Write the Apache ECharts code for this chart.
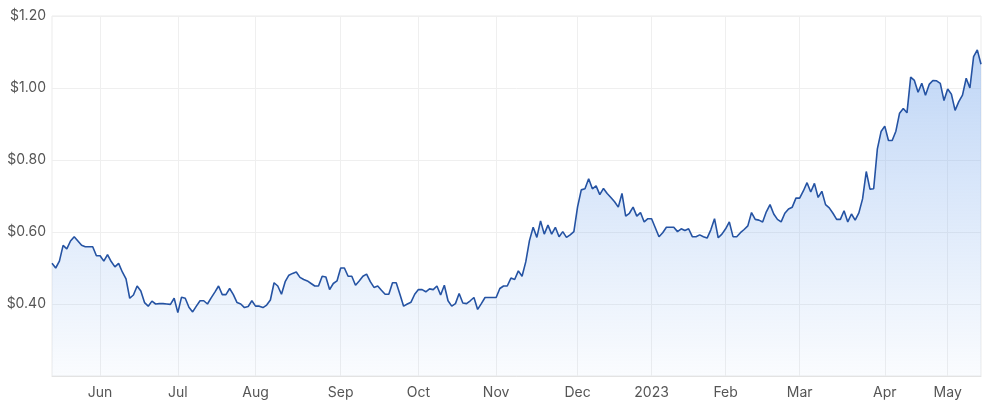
<!DOCTYPE html>
<html>
<head>
<meta charset="utf-8">
<script src="https://cdn.jsdelivr.net/npm/echarts@6/dist/echarts.min.js"></script>
<style>
html,body{margin:0;padding:0;background:#fff;}
#chart{width:1000px;height:409px;}
</style>
</head>
<body>
<div id="chart"></div>
<script>
// Trading calendar (ASX): first and last trading day shown, and exchange holidays in range
var startDate = '2022-05-13';
var endDate = '2023-05-12';
var holidays = ['2022-06-13','2022-09-22','2022-12-26','2022-12-27','2023-01-02','2023-01-26','2023-04-07','2023-04-10','2023-04-25'];
var monthNames = ['Jan','Feb','Mar','Apr','May','Jun','Jul','Aug','Sep','Oct','Nov','Dec'];
var yTicks = [0.2, 0.4, 0.6, 0.8, 1.0, 1.2];

// Closing prices, one per trading day
var prices = [
0.513,0.500,0.519,0.563,0.553,0.575,0.587,0.575,0.563,0.559,
0.559,0.559,0.534,0.534,0.519,0.537,0.518,0.503,0.513,0.489,
0.470,0.416,0.425,0.450,0.436,0.404,0.394,0.408,0.400,0.401,
0.401,0.400,0.399,0.416,0.376,0.419,0.416,0.391,0.378,0.394,
0.409,0.409,0.400,0.417,0.433,0.450,0.426,0.426,0.443,0.426,
0.404,0.400,0.390,0.393,0.409,0.394,0.394,0.390,0.397,0.411,
0.459,0.450,0.427,0.462,0.480,0.485,0.489,0.474,0.468,0.464,
0.457,0.450,0.450,0.477,0.475,0.440,0.457,0.464,0.500,0.500,
0.477,0.477,0.452,0.464,0.477,0.483,0.462,0.446,0.450,0.438,
0.427,0.427,0.459,0.459,0.427,0.394,0.400,0.405,0.427,0.440,
0.440,0.434,0.442,0.440,0.450,0.425,0.452,0.409,0.394,0.401,
0.429,0.403,0.401,0.409,0.418,0.385,0.401,0.418,0.418,0.418,
0.418,0.443,0.450,0.450,0.472,0.468,0.492,0.477,0.517,0.576,
0.613,0.585,0.631,0.594,0.619,0.594,0.613,0.587,0.601,0.585,
0.592,0.601,0.670,0.717,0.720,0.748,0.720,0.728,0.704,0.721,
0.707,0.696,0.684,0.669,0.707,0.644,0.652,0.669,0.644,0.654,
0.628,0.637,0.637,0.612,0.587,0.598,0.613,0.613,0.613,0.601,
0.609,0.604,0.609,0.587,0.587,0.592,0.587,0.583,0.606,0.637,
0.584,0.594,0.609,0.628,0.587,0.587,0.598,0.607,0.617,0.654,
0.635,0.633,0.628,0.656,0.676,0.650,0.635,0.628,0.652,0.664,
0.669,0.694,0.694,0.714,0.737,0.711,0.735,0.696,0.713,0.676,
0.667,0.652,0.635,0.635,0.659,0.628,0.650,0.633,0.653,0.692,
0.768,0.719,0.720,0.831,0.879,0.894,0.854,0.854,0.880,0.930,
0.943,0.931,1.030,1.021,0.988,1.013,0.980,1.010,1.021,1.020,
1.013,0.965,0.997,0.983,0.938,0.962,0.980,1.027,1.000,1.087,
1.106,1.066
];

function pad(n){return (n<10?'0':'')+n;}
function buildDates(){
  var out = [];
  var d = new Date(startDate + 'T00:00:00Z');
  var end = new Date(endDate + 'T00:00:00Z');
  while (d <= end) {
    var s = d.getUTCFullYear() + '-' + pad(d.getUTCMonth()+1) + '-' + pad(d.getUTCDate());
    var wd = d.getUTCDay();
    if (wd !== 0 && wd !== 6 && holidays.indexOf(s) < 0) out.push(s);
    d = new Date(d.getTime() + 86400000);
  }
  return out;
}
var dates = buildDates();

function isMonthStart(i){
  if (i === 0) return false;
  return dates[i].slice(0,7) !== dates[i-1].slice(0,7);
}

var chart = echarts.init(document.getElementById('chart'));
chart.setOption({
  animation: false,
  grid: {left: 52, right: 19, top: 16, bottom: 33, show: true, borderColor: '#ebebeb', borderWidth: 1},
  xAxis: {
    type: 'category',
    data: dates,
    boundaryGap: false,
    axisLine: {show: true, lineStyle: {color: '#e3e3e3'}},
    axisTick: {show: false},
    splitLine: {show: true, interval: function(i){return isMonthStart(i);}, lineStyle: {color: '#efefef', width: 1}},
    axisLabel: {
      interval: function(i){return isMonthStart(i);},
      formatter: function(v){
        var m = parseInt(v.slice(5,7),10);
        if (m === 1) return v.slice(0,4);
        return monthNames[m-1];
      },
      color: '#555',
      fontFamily: 'Inter, Roboto, sans-serif',
      fontSize: 14,
      margin: 10
    }
  },
  yAxis: {
    type: 'value',
    min: yTicks[0],
    max: yTicks[yTicks.length-1],
    interval: 0.2,
    axisLine: {show: false},
    axisTick: {show: false},
    splitLine: {lineStyle: {color: '#efefef'}},
    axisLabel: {
      showMinLabel: false,
      formatter: function(v){return '$' + v.toFixed(2);},
      color: '#555',
      fontFamily: 'Inter, Roboto, sans-serif',
      fontSize: 14,
      margin: 6
    }
  },
  series: [{
    type: 'line',
    data: prices,
    symbol: 'none',
    smooth: false,
    lineStyle: {color: '#2553a3', width: 1.6},
    areaStyle: {
      color: new echarts.graphic.LinearGradient(0, 0, 0, 1, [
        {offset: 0, color: 'rgba(120,168,236,0.68)'},
        {offset: 1, color: 'rgba(130,175,238,0.06)'}
      ])
    }
  }]
});
</script>
</body>
</html>
